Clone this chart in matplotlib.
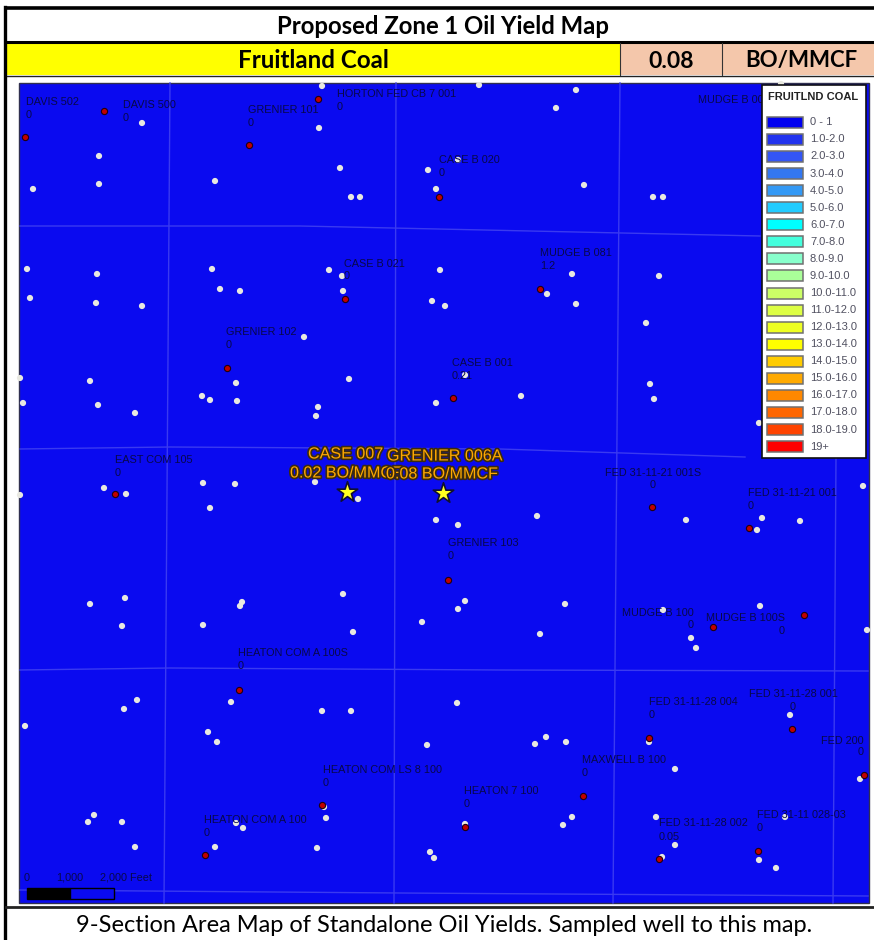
import matplotlib
matplotlib.use('Agg')
from matplotlib import pyplot as plt
from matplotlib.patches import Rectangle
import matplotlib.patheffects as pe

dots_x = [322, 479, 576, 556, 781, 142, 319, 99, 340, 428, 458, 33, 99, 215, 436, 351, 360, 584, 653, 663,
          27, 97, 212, 329, 342, 440, 572, 659, 220, 240, 343, 30, 547,
          96, 142, 432, 445, 576, 646, 304, 20, 90, 349, 465, 236, 650, 23, 98, 202, 210, 237, 318, 316, 135,
          436, 521, 654, 759,
          20, 104, 126, 203, 235, 315, 358, 210, 436, 458, 537, 686, 762, 757, 800, 863,
          90, 125, 242, 240, 343, 465, 458, 565, 663, 760,
          122, 203, 353, 422, 540, 691, 696, 867,
          137, 124, 231, 322, 351, 457, 25, 208, 217, 427, 535, 546, 566, 649, 790, 675, 860,
          94, 88, 122, 236, 243, 326, 324, 465, 572, 563, 656, 785, 135, 215, 317, 675, 430, 434, 662, 759, 776]
dots_y = [86, 85, 90, 108, 84, 123, 128, 156, 168, 170, 160, 189, 184, 181, 189, 197, 197, 185, 197, 197,
          269, 274, 269, 270, 276, 270, 274, 276, 289, 291, 291, 298, 294,
          303, 306, 301, 306, 304, 323, 337, 378, 381, 379, 375, 383, 384, 403, 405, 396, 400, 401, 407, 416, 413,
          403, 396, 399, 423,
          495, 488, 494, 483, 484, 482, 499, 508, 520, 525, 516, 520, 518, 530, 521, 486,
          604, 598, 602, 606, 594, 601, 609, 604, 610, 606,
          626, 625, 632, 622, 634, 638, 648, 630,
          700, 709, 702, 711, 711, 703, 726, 732, 742, 745, 744, 737, 742, 742, 715, 769, 779,
          815, 822, 822, 823, 828, 818, 807, 824, 817, 825, 817, 817, 847, 847, 848, 845, 852, 858, 857, 860, 868]

wells_x = [104, 25, 249, 318, 439, 540, 345, 227, 453, 115, 652, 749, 448, 804, 713, 239, 649, 792, 864, 583,
           322, 465, 205, 659, 758]
wells_y = [111, 137, 145, 99, 197, 289, 299, 368, 398, 494, 507, 528, 580, 615, 627, 690, 738, 729, 775, 796,
           805, 827, 855, 859, 851]

sampled_x = [347, 443]
sampled_y = [492, 493]

names = ['DAVIS 502', 'DAVIS 500', 'GRENIER 101', 'HORTON FED CB 7 001', 'MUDGE B 001', 'CASE B 020', 'CASE B 021',
         'MUDGE B 081', 'GRENIER 102', 'CASE B 001', 'EAST COM 105', 'FED 31-11-21 001S', 'FED 31-11-21 001',
         'GRENIER 103', 'MUDGE B 100', 'MUDGE B 100S', 'HEATON COM A 100S', 'FED 31-11-28 004', 'FED 31-11-28 001',
         'FED 200', 'MAXWELL B 100', 'HEATON COM LS 8 100', 'HEATON 7 100', 'HEATON COM A 100', 'FED 31-11-28 002',
         'FED 31-11 028-03']
name_x = [26, 123, 248, 337, 698, 439, 344, 540, 226, 452, 115, 605, 748, 448, 622, 706, 238, 649, 749, 821, 582,
          323, 464, 204, 659, 757]
name_y = [102, 105, 110, 94, 100, 160, 264, 253, 332, 363, 460, 473, 493, 543, 613, 618, 653, 702, 694, 741, 760,
          770, 791, 820, 823, 815]
yields = ['0', '0', '0', '0', '', '0', '0', '1.2', '0', '0.21', '0', '0', '0', '0', '0', '0', '0', '0', '0', '0', '0',
          '0', '0', '0', '0.05', '0']
yield_x = [26, 123, 248, 337, 698, 439, 344, 540, 226, 452, 115, 650, 748, 448, 688, 779, 238, 649, 790, 858, 582,
           323, 464, 204, 659, 757]
yield_y = [115, 118, 123, 107, 113, 173, 276, 266, 345, 376, 473, 485, 506, 556, 625, 631, 666, 715, 707, 752, 773,
           783, 804, 833, 837, 828]

legend_labels = ['0 - 1', '1.0-2.0', '2.0-3.0', '3.0-4.0', '4.0-5.0', '5.0-6.0', '6.0-7.0', '7.0-8.0', '8.0-9.0',
                 '9.0-10.0', '10.0-11.0', '11.0-12.0', '12.0-13.0', '13.0-14.0', '14.0-15.0', '15.0-16.0',
                 '16.0-17.0', '17.0-18.0', '18.0-19.0', '19+']
legend_colors = ['#0000f0', '#2233ee', '#3355f5', '#3377f0', '#3399f5', '#22ccff', '#00ffff', '#44ffdd', '#88ffcc',
                 '#aaff99', '#ccff66', '#ddff44', '#eeff22', '#ffff00', '#ffcc00', '#ffaa00', '#ff8800', '#ff6600',
                 '#ff4400', '#ff0000']

section_lines = [([20, 300, 760], [226, 226, 236]),
                 ([20, 170, 500, 745], [449, 447, 449, 457]),
                 ([20, 170, 500, 868], [670, 668, 670, 671]),
                 ([20, 400, 868], [890, 893, 896]),
                 ([170, 164], [83, 903]),
                 ([396, 394], [83, 903]),
                 ([620, 613], [83, 903]),
                 ([836, 833], [458, 903])]

MAP_BLUE = '#0a0af0'
WELL_TEXT = '#08084a'

fig = plt.figure(figsize=(8.74, 9.4), dpi=100)
ax = fig.add_axes([0, 0, 1, 1])
ax.set_xlim(0, 874)
ax.set_ylim(940, 0)
ax.axis('off')

# table header
ax.add_patch(Rectangle((7, 43), 613, 32, fc='#ffff00', ec='none', zorder=1))
ax.add_patch(Rectangle((620, 43), 102, 32, fc='#f4c7ab', ec='none', zorder=1))
ax.add_patch(Rectangle((722, 43), 152, 32, fc='#f4c7ab', ec='none', zorder=1))
ax.plot([6, 874], [8, 8], color='black', lw=2.6, zorder=2)
ax.plot([6, 874], [42, 42], color='black', lw=2.2, zorder=2)
ax.plot([6, 874], [75.5, 75.5], color='#222222', lw=1, zorder=2)
ax.plot([5, 5], [7, 940], color='black', lw=2.4, zorder=2)
ax.plot([620, 620], [43, 75], color='#333333', lw=0.8, zorder=2)
ax.plot([722, 722], [43, 75], color='#333333', lw=0.8, zorder=2)
ax.plot([6, 874], [907, 907], color='#222222', lw=2, zorder=2)

head = {'family': ['Lato', 'DejaVu Sans'], 'color': 'black', 'ha': 'center', 'va': 'center'}
ax.text(443, 27, 'Proposed Zone 1 Oil Yield Map', fontsize=17.2, fontweight='bold', **head)
ax.text(313, 61, 'Fruitland Coal', fontsize=17.4, fontweight='bold', **head)
ax.text(671, 61, '0.08', fontsize=16.5, fontweight='bold', **head)
ax.text(801, 61, 'BO/MMCF', fontsize=16, fontweight='bold', **head)
ax.text(444, 926, '9-Section Area Map of Standalone Oil Yields. Sampled well to this map.', fontsize=17, **head)

# map
ax.add_patch(Rectangle((19, 83), 850, 820, fc=MAP_BLUE, ec='#303050', lw=1, zorder=3))
for line_x, line_y in section_lines:
    ax.plot(line_x, line_y, color='#3a3af0', lw=1, zorder=4)

ax.scatter(dots_x, dots_y, s=20, c='#e8e8e0', edgecolors='none', zorder=5)
ax.scatter(wells_x, wells_y, s=20, c='#c00000', edgecolors='#200010', linewidths=0.8, zorder=6)

well_font = {'family': 'Liberation Sans', 'color': WELL_TEXT, 'ha': 'left', 'va': 'center', 'fontsize': 7.8, 'zorder': 7}
for i in range(len(names)):
    ax.text(name_x[i], name_y[i], names[i], **well_font)
    ax.text(yield_x[i], yield_y[i], yields[i], **well_font)

# sampled wells
ax.scatter(sampled_x, sampled_y, s=240, marker='*', c='#ffff20', edgecolors='#101030', linewidths=1.2, zorder=8)
outline = [pe.withStroke(linewidth=2.4, foreground='#3a2a10')]
star_font = {'family': 'Liberation Sans', 'color': '#ffa800', 'ha': 'left', 'va': 'center', 'fontsize': 11.6,
             'path_effects': outline, 'zorder': 9}
ax.text(308, 454, 'CASE 007', **star_font)
ax.text(290, 473, '0.02 BO/MMCF', **star_font)
ax.text(387, 456, 'GRENIER 006A', **star_font)
ax.text(386, 474, '0.08 BO/MMCF', **star_font)

# scale bar
scale_font = {'family': 'Liberation Sans', 'color': WELL_TEXT, 'va': 'center', 'fontsize': 7.8, 'zorder': 7}
ax.text(27, 878, '0', ha='center', **scale_font)
ax.text(70, 878, '1,000', ha='center', **scale_font)
ax.text(126, 878, '2,000 Feet', ha='center', **scale_font)
ax.add_patch(Rectangle((27, 888), 43, 11, fc='black', ec='black', lw=1, zorder=7))
ax.add_patch(Rectangle((70, 888), 44, 11, fc=MAP_BLUE, ec='black', lw=1, zorder=7))

# legend box
ax.add_patch(Rectangle((762, 85), 104, 373, fc='white', ec='#111111', lw=1.2, zorder=10))
ax.text(768, 97, 'FRUITLND COAL', family='Liberation Sans', fontweight='bold', fontsize=8, color='#222222',
        va='center', zorder=11)
for i in range(len(legend_labels)):
    y = 122.3 + i * 17.07
    ax.add_patch(Rectangle((767, y - 5.5), 36, 11, fc=legend_colors[i], ec='#707070', lw=1.1, zorder=11))
    ax.text(810, y, legend_labels[i], family='Liberation Sans', fontsize=8, color='#505060', va='center', zorder=11)

fig.savefig('out.png', dpi=100, facecolor='white')
